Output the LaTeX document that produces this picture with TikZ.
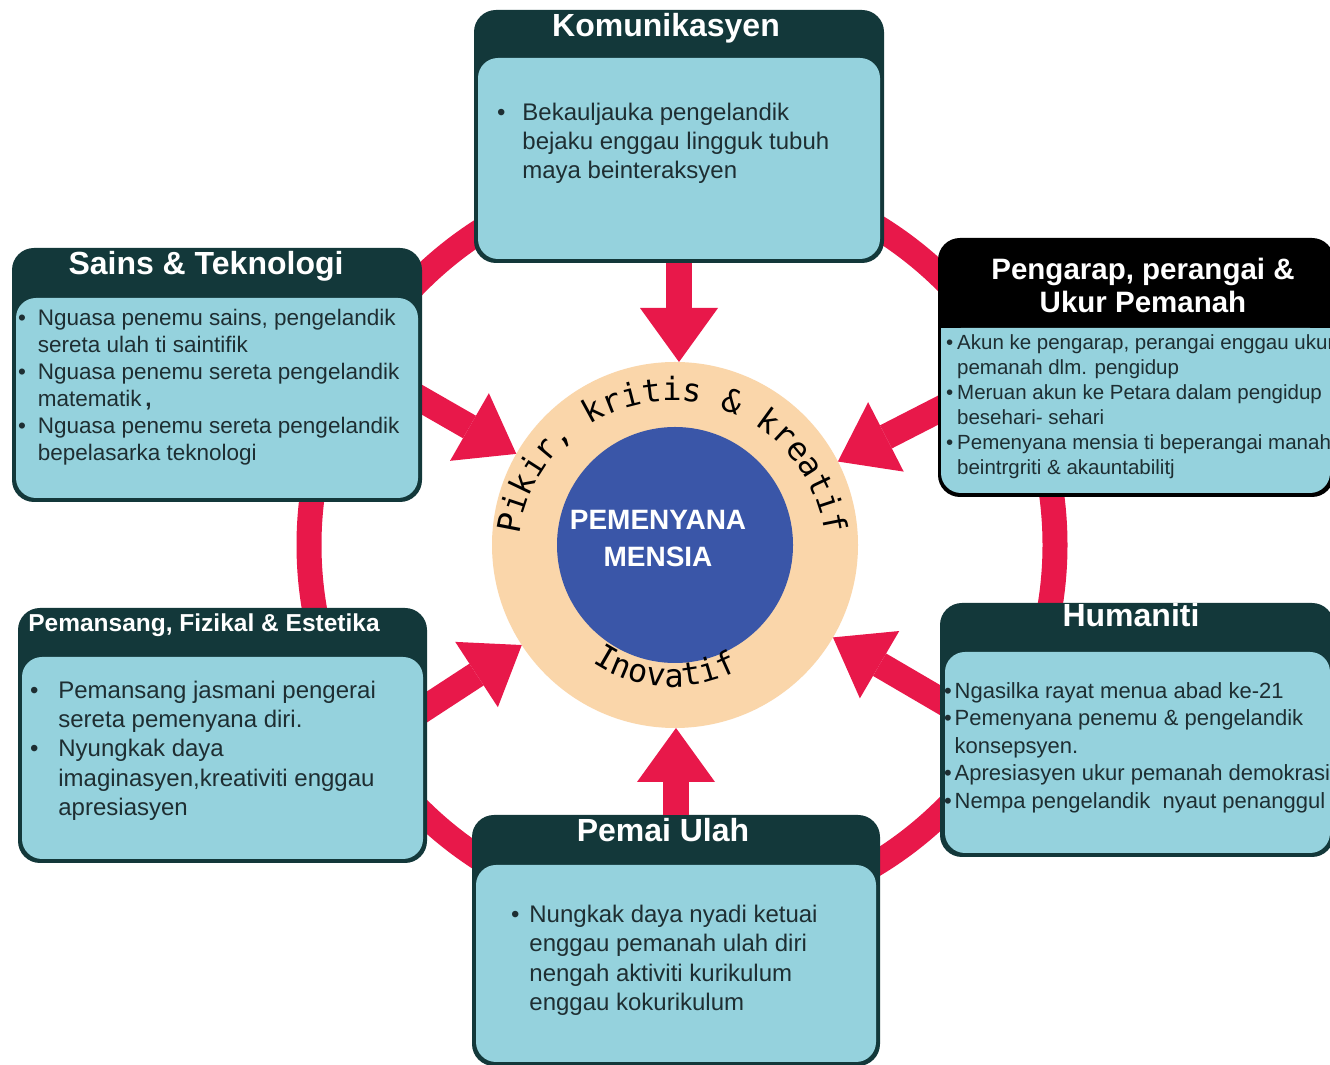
\documentclass[tikz,border=0pt]{standalone}
\usepackage{fontspec}
\setmainfont{Liberation Sans}
\newfontfamily\arcfont{DejaVu Sans Mono}
\usetikzlibrary{arrows.meta,decorations.text}

\definecolor{crim}{RGB}{232,24,74}
\definecolor{boxdark}{RGB}{19,56,58}
\definecolor{boxlight}{RGB}{149,210,221}
\definecolor{beige}{RGB}{250,214,170}
\definecolor{core}{RGB}{58,86,168}
\definecolor{bodyc}{RGB}{30,46,50}

\tikzset{
  outerbox/.style={fill=boxdark,rounded corners=22pt,inner sep=0pt,outer sep=0pt},
  innerbox/.style={fill=boxlight,rounded corners=20pt,inner sep=0pt,outer sep=0pt},
  headtxt/.style={text=white,anchor=base,inner sep=0pt,font=\bfseries\fontsize{32}{36}\selectfont},
  bodytxt/.style={text=bodyc,anchor=north west,inner sep=0pt,outer sep=0pt},
  bigarrow/.style={draw=crim,line width=26pt,-{Triangle[width=78pt,length=54pt,line width=0pt]}},
}

\begin{document}
\begin{tikzpicture}[x=1pt,y=1pt]
            \path[use as bounding box,fill=white] (0,0) rectangle (1330,1065);
            \clip (0,0) rectangle (1330,1065);

            \draw[crim,line width=25pt] (682,520) circle[radius=373pt];

            \node[circle,fill=beige,minimum size=366pt,inner sep=0pt,outer sep=0pt] (C) at (675,520) {};
            \node[circle,fill=core,minimum size=236pt,inner sep=0pt,outer sep=0pt] (D) at (675,520) {};
            \node[text=white,anchor=base,inner sep=0pt,font=\bfseries\fontsize{28}{37}\selectfont] (E) at (658,535) { \begin{tabular}[t]{c}PEMENYANA\\MENSIA\end{tabular} };

            \path[decorate,decoration={text along path,text align=center,text={|\arcfont\fontsize{32}{32}\selectfont|Pikir, kritis {\&} kreatif}}] (672,510) ++(180:154pt) arc[start angle=180,end angle=0,radius=154pt];
            \path[decorate,decoration={text along path,text align=center,text={|\arcfont\fontsize{32}{32}\selectfont|Inovatif}}] (672,520) ++(200:142pt) arc[start angle=200,end angle=334,radius=142pt];

            \coordinate (s1) at (405,675);
            \coordinate (s2) at (410,347);
            \coordinate (s3) at (956,664);
            \coordinate (s4) at (957,355);
            \draw[bigarrow] (s1) to (C);
            \draw[bigarrow] (s2) to (C);
            \draw[bigarrow] (s3) to (C);
            \draw[bigarrow] (s4) to (C);

            \node[outerbox,minimum width=410pt,minimum height=253pt] (K) at (679,928.5) {};
            \node[innerbox,minimum width=402pt,minimum height=201pt] (Ki) at (679,906.5) {};
            \node[headtxt] (Kt) at (666,1028) {Komunikasyen};
            \node[bodytxt,font=\fontsize{24}{29}\selectfont] (Kb) at (497,965) { \begin{tabular}{@{}l@{\hspace{17pt}}l@{}}\textbullet & Bekauljauka pengelandik\\ & bejaku enggau lingguk tubuh\\ & maya beinteraksyen\end{tabular} };

            \node[outerbox,minimum width=410pt,minimum height=254pt] (S) at (217,690) {};
            \node[innerbox,minimum width=402pt,minimum height=200pt] (Si) at (217,667) {};
            \node[headtxt] (St) at (206,790) {Sains \& Teknologi};
            \node[bodytxt,font=\fontsize{22.5}{27}\selectfont] (Sb) at (18,758) { \begin{tabular}{@{}l@{\hspace{12pt}}l@{}}\textbullet & Nguasa penemu sains, pengelandik\\ & sereta ulah ti saintifik\\ \textbullet & Nguasa penemu sereta pengelandik\\ & matematik\,\textbf{,}\\ \textbullet & Nguasa penemu sereta pengelandik\\ & bepelasarka teknologi\end{tabular} };

            \node[outerbox,fill=black,minimum width=396pt,minimum height=259pt] (P) at (1136,697.5) {};
            \node[innerbox,minimum width=389pt,minimum height=165pt] (Pi) at (1135.5,654.5) {};
            \fill[boxlight] (941,737) rectangle (1330,712);
            \node[headtxt,font=\bfseries\fontsize{29.5}{33}\selectfont] (Pt) at (1143,785) { \begin{tabular}[t]{c}Pengarap, perangai \&\\Ukur Pemanah\end{tabular} };
            \node[bodytxt,font=\fontsize{20.5}{25}\selectfont] (Pb) at (946,733) { \begin{tabular}{@{}l@{\hspace{4pt}}l@{}}\textbullet & Akun ke pengarap, perangai enggau ukur\\ & pemanah dlm. pengidup\\ \textbullet & Meruan akun ke Petara dalam pengidup\\ & besehari- sehari\\ \textbullet & Pemenyana mensia ti beperangai manah\\ & beintrgriti \& akauntabilitj\end{tabular} };

            \node[outerbox,minimum width=394pt,minimum height=254pt] (H) at (1137,335) {};
            \node[innerbox,minimum width=385pt,minimum height=201pt] (Hi) at (1137.5,312.5) {};
            \node[headtxt] (Ht) at (1131,438) {Humaniti};
            \node[bodytxt,font=\fontsize{22}{27.5}\selectfont] (Hb) at (944,386) { \begin{tabular}{@{}l@{\hspace{3pt}}l@{}}\textbullet & Ngasilka rayat menua abad ke-21\\ \textbullet & Pemenyana penemu \& pengelandik\\ & konsepsyen.\\ \textbullet & Apresiasyen ukur pemanah demokrasi\\ \textbullet & Nempa pengelandik\ \ nyaut penanggul\end{tabular} };

            \node[outerbox,minimum width=409pt,minimum height=255pt] (M) at (222.5,329.5) {};
            \node[innerbox,minimum width=401pt,minimum height=202pt] (Mi) at (222.5,307) {};
            \node[headtxt,font=\bfseries\fontsize{24.5}{28}\selectfont] (Mt) at (204,433) {Pemansang, Fizikal \& Estetika};
            \node[bodytxt,font=\fontsize{24}{29.2}\selectfont] (Mb) at (30,387) { \begin{tabular}{@{}l@{\hspace{20pt}}l@{}}\textbullet & Pemansang jasmani pengerai\\ & sereta pemenyana diri.\\ \textbullet & Nyungkak daya\\ & imaginasyen,kreativiti enggau\\ & apresiasyen\end{tabular} };

            \node[outerbox,minimum width=408pt,minimum height=251pt] (U) at (676,124.5) {};
            \node[innerbox,minimum width=400pt,minimum height=197pt] (Ui) at (676,101.5) {};
            \node[headtxt] (Ut) at (663,223) {Pemai Ulah};
            \node[bodytxt,font=\fontsize{24}{29.3}\selectfont] (Ub) at (511,163) { \begin{tabular}{@{}l@{\hspace{10pt}}l@{}}\textbullet & Nungkak daya nyadi ketuai\\ & enggau pemanah ulah diri\\ & nengah aktiviti kurikulum\\ & enggau kokurikulum\end{tabular} };

            \draw[bigarrow] (K.south) to (K.south |- C.north);
            \draw[bigarrow] (U.north) to (U.north |- C.south);

        \end{tikzpicture}
\end{document}
